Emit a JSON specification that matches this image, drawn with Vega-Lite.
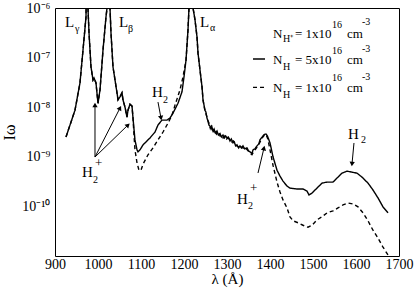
{
  "$schema": "https://vega.github.io/schema/vega-lite/v6.json",
  "width": 344,
  "height": 248,
  "autosize": {"type": "none"},
  "padding": {"left": 55, "top": 8, "right": 17, "bottom": 36},
  "background": "white",
  "config": {
    "view": {"stroke": "black", "strokeWidth": 1},
    "axis": {"grid": false, "domain": false, "labelFont": "Liberation Serif", "labelFontSize": 14, "labelColor": "black", "titleFont": "Liberation Serif", "titleColor": "black", "titleFontWeight": "normal", "tickColor": "black", "tickWidth": 1, "labelOverlap": false, "labelFlush": false, "labelBound": false}
  },
  "datasets": {
    "spec": [
      {"s":"a","l":925.6,"v":2.51e-9},{"s":"a","l":946.5,"v":8.71e-9},{"s":"a","l":958.1,"v":3.09e-8},{"s":"a","l":965.1,"v":1.41e-7},{"s":"a","l":972.1,"v":6.61e-7},{"s":"a","l":974.5,"v":3.16e-5},{"s":"a","l":976.7,"v":1.0e-6},{"s":"a","l":979.1,"v":3.16e-7},{"s":"a","l":983.7,"v":6.46e-8},{"s":"a","l":988.4,"v":3.55e-8},{"s":"a","l":990.7,"v":3.89e-8},{"s":"a","l":995.3,"v":3.09e-8},{"s":"a","l":1000,"v":1.2e-8},{"s":"a","l":1004.7,"v":2.24e-8},{"s":"a","l":1011.6,"v":1.41e-7},{"s":"a","l":1018.6,"v":6.61e-7},{"s":"a","l":1021,"v":1.0e-6},{"s":"a","l":1024.5,"v":3.16e-5},{"s":"a","l":1027.9,"v":1.0e-6},{"s":"a","l":1030.2,"v":3.16e-7},{"s":"a","l":1034.9,"v":6.46e-8},{"s":"a","l":1044.2,"v":1.95e-8},{"s":"a","l":1046.5,"v":1.41e-8},{"s":"a","l":1051.2,"v":1.62e-8},{"s":"a","l":1055.8,"v":1.95e-8},{"s":"a","l":1058.1,"v":1.41e-8},{"s":"a","l":1062.8,"v":1.0e-8},{"s":"a","l":1067.4,"v":6.31e-9},{"s":"a","l":1069.8,"v":8.71e-9},{"s":"a","l":1074.4,"v":1.15e-8},{"s":"a","l":1079.1,"v":1.05e-8},{"s":"a","l":1081.4,"v":6.03e-9},{"s":"a","l":1086,"v":2.19e-9},{"s":"a","l":1090.7,"v":1.38e-9},{"s":"a","l":1093,"v":1.26e-9},{"s":"a","l":1097.7,"v":1.38e-9},{"s":"a","l":1104.7,"v":1.74e-9},{"s":"a","l":1120.9,"v":2.4e-9},{"s":"a","l":1132.6,"v":3.16e-9},{"s":"a","l":1139.5,"v":4.37e-9},{"s":"a","l":1148.8,"v":5.5e-9},{"s":"a","l":1160.5,"v":5.5e-9},{"s":"a","l":1167.4,"v":6.03e-9},{"s":"a","l":1174.4,"v":7.59e-9},{"s":"a","l":1186,"v":1.2e-8},{"s":"a","l":1195.3,"v":2.04e-8},{"s":"a","l":1200,"v":4.07e-8},{"s":"a","l":1204.7,"v":8.91e-8},{"s":"a","l":1209.3,"v":3.63e-7},{"s":"a","l":1211.6,"v":1.0e-6},{"s":"a","l":1215.7,"v":3.16e-5},{"s":"a","l":1221,"v":1.0e-6},{"s":"a","l":1225.6,"v":5.75e-7},{"s":"a","l":1230.2,"v":2.63e-7},{"s":"a","l":1232.6,"v":1.23e-7},{"s":"a","l":1237.2,"v":5.62e-8},{"s":"a","l":1241.9,"v":2.57e-8},{"s":"a","l":1244.2,"v":1.41e-8},{"s":"a","l":1248.8,"v":8.71e-9},{"s":"a","l":1251,"v":7.94e-9},{"s":"a","l":1253.5,"v":6.03e-9},{"s":"a","l":1255.8,"v":5.25e-9},{"s":"a","l":1258,"v":4.37e-9},{"s":"a","l":1260.5,"v":4.17e-9},{"s":"a","l":1263,"v":3.63e-9},{"s":"a","l":1265,"v":3.98e-9},{"s":"a","l":1267.4,"v":3.31e-9},{"s":"a","l":1270,"v":3.63e-9},{"s":"a","l":1273,"v":3.02e-9},{"s":"a","l":1276.7,"v":3.31e-9},{"s":"a","l":1280,"v":2.75e-9},{"s":"a","l":1283.7,"v":2.95e-9},{"s":"a","l":1287,"v":2.51e-9},{"s":"a","l":1290.7,"v":2.75e-9},{"s":"a","l":1294,"v":2.4e-9},{"s":"a","l":1297,"v":2.63e-9},{"s":"a","l":1300,"v":2.4e-9},{"s":"a","l":1303,"v":2.51e-9},{"s":"a","l":1307,"v":2.09e-9},{"s":"a","l":1310,"v":2.29e-9},{"s":"a","l":1314,"v":1.91e-9},{"s":"a","l":1317,"v":2.0e-9},{"s":"a","l":1320,"v":1.66e-9},{"s":"a","l":1323.3,"v":1.74e-9},{"s":"a","l":1327,"v":1.51e-9},{"s":"a","l":1330.2,"v":1.66e-9},{"s":"a","l":1334,"v":1.51e-9},{"s":"a","l":1337.2,"v":1.66e-9},{"s":"a","l":1341,"v":1.45e-9},{"s":"a","l":1346.5,"v":1.51e-9},{"s":"a","l":1350,"v":1.32e-9},{"s":"a","l":1353.5,"v":1.26e-9},{"s":"a","l":1358.1,"v":1.17e-9},{"s":"a","l":1360.5,"v":1.38e-9},{"s":"a","l":1365,"v":1.45e-9},{"s":"a","l":1369.8,"v":1.66e-9},{"s":"a","l":1374,"v":1.82e-9},{"s":"a","l":1376.7,"v":2.19e-9},{"s":"a","l":1380,"v":2.4e-9},{"s":"a","l":1383.7,"v":2.63e-9},{"s":"a","l":1387,"v":2.82e-9},{"s":"a","l":1390.7,"v":2.88e-9},{"s":"a","l":1394,"v":2.63e-9},{"s":"a","l":1400,"v":1.91e-9},{"s":"a","l":1407,"v":1.0e-9},{"s":"a","l":1416.3,"v":5.37e-10},{"s":"a","l":1423.3,"v":4.07e-10},{"s":"a","l":1430.2,"v":3.24e-10},{"s":"a","l":1439.5,"v":2.57e-10},{"s":"a","l":1446.5,"v":2.34e-10},{"s":"a","l":1462.8,"v":2.24e-10},{"s":"a","l":1476.7,"v":2.24e-10},{"s":"a","l":1486,"v":2.04e-10},{"s":"a","l":1490.7,"v":1.7e-10},{"s":"a","l":1497.7,"v":1.86e-10},{"s":"a","l":1504.7,"v":2.14e-10},{"s":"a","l":1521,"v":2.95e-10},{"s":"a","l":1532.6,"v":3.09e-10},{"s":"a","l":1546.5,"v":3.09e-10},{"s":"a","l":1555.8,"v":3.72e-10},{"s":"a","l":1567.4,"v":4.68e-10},{"s":"a","l":1579.1,"v":5.13e-10},{"s":"a","l":1590.7,"v":4.9e-10},{"s":"a","l":1602.3,"v":4.68e-10},{"s":"a","l":1614,"v":3.89e-10},{"s":"a","l":1627.9,"v":2.95e-10},{"s":"a","l":1639.5,"v":2.14e-10},{"s":"a","l":1651.2,"v":1.48e-10},{"s":"a","l":1662.8,"v":9.77e-11},{"s":"a","l":1674.4,"v":7.41e-11},
      {"s":"b","l":925.6,"v":2.51e-9},{"s":"b","l":946.5,"v":8.71e-9},{"s":"b","l":958.1,"v":3.09e-8},{"s":"b","l":965.1,"v":1.41e-7},{"s":"b","l":972.1,"v":6.61e-7},{"s":"b","l":974.5,"v":3.16e-5},{"s":"b","l":976.7,"v":1.0e-6},{"s":"b","l":979.1,"v":3.16e-7},{"s":"b","l":983.7,"v":6.46e-8},{"s":"b","l":988.4,"v":3.55e-8},{"s":"b","l":990.7,"v":3.89e-8},{"s":"b","l":995.3,"v":3.09e-8},{"s":"b","l":1000,"v":1.2e-8},{"s":"b","l":1004.7,"v":2.24e-8},{"s":"b","l":1011.6,"v":1.41e-7},{"s":"b","l":1018.6,"v":6.61e-7},{"s":"b","l":1021,"v":1.0e-6},{"s":"b","l":1024.5,"v":3.16e-5},{"s":"b","l":1027.9,"v":1.0e-6},{"s":"b","l":1030.2,"v":3.16e-7},{"s":"b","l":1034.9,"v":6.46e-8},{"s":"b","l":1044.2,"v":1.95e-8},{"s":"b","l":1046.5,"v":1.41e-8},{"s":"b","l":1051.2,"v":1.62e-8},{"s":"b","l":1055.8,"v":1.95e-8},{"s":"b","l":1058.1,"v":1.41e-8},{"s":"b","l":1062.8,"v":1.0e-8},{"s":"b","l":1067.4,"v":6.31e-9},{"s":"b","l":1069.8,"v":8.71e-9},{"s":"b","l":1074.4,"v":1.15e-8},{"s":"b","l":1079.1,"v":1.05e-8},{"s":"b","l":1081.4,"v":6.03e-9},{"s":"b","l":1083.7,"v":2.75e-9},{"s":"b","l":1086,"v":1.38e-9},{"s":"b","l":1090.7,"v":7.59e-10},{"s":"b","l":1095.3,"v":5.37e-10},{"s":"b","l":1100,"v":5.37e-10},{"s":"b","l":1104.7,"v":7.08e-10},{"s":"b","l":1116.3,"v":1.1e-9},{"s":"b","l":1127.9,"v":1.51e-9},{"s":"b","l":1139.5,"v":2.19e-9},{"s":"b","l":1151.2,"v":3.16e-9},{"s":"b","l":1162.8,"v":4.79e-9},{"s":"b","l":1172.1,"v":6.92e-9},{"s":"b","l":1179.1,"v":1.1e-8},{"s":"b","l":1190.7,"v":2.24e-8},{"s":"b","l":1197.7,"v":4.07e-8},{"s":"b","l":1204.7,"v":8.91e-8},{"s":"b","l":1209.3,"v":3.63e-7},{"s":"b","l":1211.6,"v":1.0e-6},{"s":"b","l":1215.7,"v":3.16e-5},{"s":"b","l":1221,"v":1.0e-6},{"s":"b","l":1225.6,"v":5.75e-7},{"s":"b","l":1230.2,"v":2.63e-7},{"s":"b","l":1232.6,"v":1.23e-7},{"s":"b","l":1237.2,"v":5.62e-8},{"s":"b","l":1241.9,"v":2.57e-8},{"s":"b","l":1244.2,"v":1.41e-8},{"s":"b","l":1248.8,"v":8.32e-9},{"s":"b","l":1252,"v":6.92e-9},{"s":"b","l":1255,"v":5.5e-9},{"s":"b","l":1258,"v":4.79e-9},{"s":"b","l":1261,"v":3.8e-9},{"s":"b","l":1264,"v":4.17e-9},{"s":"b","l":1267,"v":3.47e-9},{"s":"b","l":1270,"v":3.16e-9},{"s":"b","l":1273,"v":3.47e-9},{"s":"b","l":1276,"v":2.88e-9},{"s":"b","l":1280,"v":3.16e-9},{"s":"b","l":1284,"v":2.63e-9},{"s":"b","l":1288,"v":2.75e-9},{"s":"b","l":1291,"v":2.4e-9},{"s":"b","l":1295,"v":2.63e-9},{"s":"b","l":1299,"v":2.29e-9},{"s":"b","l":1303,"v":2.4e-9},{"s":"b","l":1307,"v":2.19e-9},{"s":"b","l":1311,"v":2.0e-9},{"s":"b","l":1315,"v":2.09e-9},{"s":"b","l":1319,"v":1.74e-9},{"s":"b","l":1323,"v":1.66e-9},{"s":"b","l":1327,"v":1.58e-9},{"s":"b","l":1331,"v":1.45e-9},{"s":"b","l":1335,"v":1.58e-9},{"s":"b","l":1339,"v":1.45e-9},{"s":"b","l":1343,"v":1.51e-9},{"s":"b","l":1347,"v":1.38e-9},{"s":"b","l":1351,"v":1.26e-9},{"s":"b","l":1355,"v":1.15e-9},{"s":"b","l":1358,"v":1.1e-9},{"s":"b","l":1362,"v":1.26e-9},{"s":"b","l":1367,"v":1.45e-9},{"s":"b","l":1372,"v":1.66e-9},{"s":"b","l":1377,"v":2.0e-9},{"s":"b","l":1382,"v":2.4e-9},{"s":"b","l":1386,"v":2.69e-9},{"s":"b","l":1390.7,"v":2.82e-9},{"s":"b","l":1395,"v":2.29e-9},{"s":"b","l":1400,"v":1.38e-9},{"s":"b","l":1407,"v":6.76e-10},{"s":"b","l":1416.3,"v":3.09e-10},{"s":"b","l":1423.3,"v":1.95e-10},{"s":"b","l":1430.2,"v":1.35e-10},{"s":"b","l":1439.5,"v":9.33e-11},{"s":"b","l":1446.5,"v":6.17e-11},{"s":"b","l":1453.5,"v":5.13e-11},{"s":"b","l":1465.1,"v":4.68e-11},{"s":"b","l":1476.7,"v":4.17e-11},{"s":"b","l":1488.4,"v":3.8e-11},{"s":"b","l":1497.7,"v":4.17e-11},{"s":"b","l":1509.3,"v":5.37e-11},{"s":"b","l":1521,"v":6.17e-11},{"s":"b","l":1532.6,"v":7.41e-11},{"s":"b","l":1546.5,"v":8.13e-11},{"s":"b","l":1558.1,"v":9.33e-11},{"s":"b","l":1569.8,"v":1.07e-10},{"s":"b","l":1581.4,"v":1.17e-10},{"s":"b","l":1593,"v":1.12e-10},{"s":"b","l":1604.7,"v":9.77e-11},{"s":"b","l":1616.3,"v":7.41e-11},{"s":"b","l":1627.9,"v":5.13e-11},{"s":"b","l":1639.5,"v":3.31e-11},{"s":"b","l":1651.2,"v":2.29e-11},{"s":"b","l":1662.8,"v":1.51e-11},{"s":"b","l":1674.4,"v":1.05e-11}
    ],
    "legline": [
      {"s":"a","l1":1360.5,"l2":1388.4,"v":9.38e-8},
      {"s":"b","l1":1360.5,"l2":1390.7,"v":2.52e-8}
    ],
    "arrows": [
      {"l1":993,"v1":9.9e-10,"l2":993,"v2":1.11e-8},
      {"l1":993,"v1":9.9e-10,"l2":1051.2,"v2":9.64e-9},
      {"l1":993,"v1":9.9e-10,"l2":1069.8,"v2":4.38e-9},
      {"l1":1139.5,"v1":1.27e-8,"l2":1146.5,"v2":6.05e-9},
      {"l1":1372.1,"v1":4.71e-10,"l2":1386,"v2":1.5e-9},
      {"l1":1595.3,"v1":1.9e-9,"l2":1590.7,"v2":7.16e-10}
    ],
    "big": [
      {"t":"L","l":923.3,"v":5.22e-7},
      {"t":"L","l":1048.8,"v":5.22e-7},
      {"t":"L","l":1237.2,"v":5.22e-7},
      {"t":"H","l":1125.6,"v":2.02e-8},
      {"t":"H","l":962.8,"v":4.94e-10},
      {"t":"H","l":1323.3,"v":1.41e-10},
      {"t":"H","l":1581.4,"v":2.88e-9}
    ],
    "leg": [
      {"t":"N","l":1407,"v":2.99e-7},
      {"t":"= 1x10","l":1458.1,"v":2.99e-7},
      {"t":"cm","l":1579.1,"v":2.99e-7},
      {"t":"N","l":1407,"v":8.95e-8},
      {"t":"= 5x10","l":1458.1,"v":8.95e-8},
      {"t":"cm","l":1579.1,"v":8.95e-8},
      {"t":"N","l":1407,"v":2.44e-8},
      {"t":"= 1x10","l":1458.1,"v":2.44e-8},
      {"t":"cm","l":1579.1,"v":2.44e-8}
    ],
    "small": [
      {"t":"γ","l":946.5,"v":3.78e-7},
      {"t":"β","l":1069.8,"v":3.78e-7},
      {"t":"α","l":1260.5,"v":3.95e-7},
      {"t":"2","l":1151.2,"v":1.4e-8},
      {"t":"2","l":988.4,"v":3.4e-10},
      {"t":"2","l":1348.8,"v":1.02e-10},
      {"t":"2","l":1611.6,"v":2.18e-9},
      {"t":"H⁺","l":1430.2,"v":2.37e-7},
      {"t":"16","l":1544.2,"v":4.54e-7},
      {"t":"-3","l":1614,"v":5.22e-7},
      {"t":"H","l":1430.2,"v":6.45e-8},
      {"t":"16","l":1544.2,"v":1.36e-7},
      {"t":"-3","l":1614,"v":1.49e-7},
      {"t":"H","l":1430.2,"v":1.76e-8},
      {"t":"16","l":1544.2,"v":3.88e-8},
      {"t":"-3","l":1614,"v":4.06e-8}
    ],
    "plus": [
      {"t":"+","l":993,"v":7.5e-10},
      {"t":"+","l":1353.5,"v":2.35e-10}
    ]
  },
  "layer": [
    {
      "data": {"name": "spec"},
      "mark": {"type": "line", "clip": true, "color": "black", "strokeWidth": 1.4},
      "encoding": {
        "x": {"field": "l", "type": "quantitative", "scale": {"domain": [900, 1700], "nice": false, "zero": false},
          "axis": {"orient": "bottom", "values": [900,925,950,975,1000,1025,1050,1075,1100,1125,1150,1175,1200,1225,1250,1275,1300,1325,1350,1375,1400,1425,1450,1475,1500,1525,1550,1575,1600,1625,1650,1675,1700],
            "labelExpr": "datum.value % 100 === 0 ? '' + datum.value : ''", "tickSize": 0, "labelPadding": 1,
            "title": "λ (Å)", "titleFontSize": 15, "titlePadding": 0,
            "encode": {"ticks": {"update": {"y2": {"signal": "datum.value % 100 === 0 ? -5 : -3"}}}}}},
        "y": {"field": "v", "type": "quantitative", "scale": {"type": "log", "domain": [1e-11, 1e-6], "nice": false},
          "axis": {"orient": "left", "values": [1e-11,2e-11,3e-11,4e-11,5e-11,6e-11,7e-11,8e-11,9e-11,1e-10,2e-10,3e-10,4e-10,5e-10,6e-10,7e-10,8e-10,9e-10,1e-9,2e-9,3e-9,4e-9,5e-9,6e-9,7e-9,8e-9,9e-9,1e-8,2e-8,3e-8,4e-8,5e-8,6e-8,7e-8,8e-8,9e-8,1e-7,2e-7,3e-7,4e-7,5e-7,6e-7,7e-7,8e-7,9e-7,1e-6],
            "labelExpr": "abs(log(datum.value)/LN10 - round(log(datum.value)/LN10)) < 0.001 ? (round(log(datum.value)/LN10) == -6 ? '10⁻⁶' : round(log(datum.value)/LN10) == -7 ? '10⁻⁷' : round(log(datum.value)/LN10) == -8 ? '10⁻⁸' : round(log(datum.value)/LN10) == -9 ? '10⁻⁹' : round(log(datum.value)/LN10) == -10 ? '10⁻¹⁰' : '') : ''",
            "tickSize": 0, "labelPadding": 5,
            "title": "Iω", "titleFontSize": 16, "titlePadding": 4,
            "encode": {"ticks": {"update": {"x2": {"signal": "abs(log(datum.value)/LN10 - round(log(datum.value)/LN10)) < 0.001 ? 5 : 3"}}}}}},
        "strokeDash": {"field": "s", "type": "nominal", "scale": {"domain": ["a", "b"], "range": [[1, 0], [4, 3]]}, "legend": null}
      }
    },
    {
      "data": {"name": "legline"},
      "mark": {"type": "rule", "color": "black", "strokeWidth": 1.3},
      "encoding": {
        "x": {"field": "l1", "type": "quantitative", "scale": {"domain": [900, 1700], "nice": false, "zero": false},
          "axis": {"orient": "top", "values": [900,925,950,975,1000,1025,1050,1075,1100,1125,1150,1175,1200,1225,1250,1275,1300,1325,1350,1375,1400,1425,1450,1475,1500,1525,1550,1575,1600,1625,1650,1675,1700],
            "labels": false, "tickSize": 0, "title": null,
            "encode": {"ticks": {"update": {"y2": {"signal": "datum.value % 100 === 0 ? 5 : 3"}}}}}},
        "x2": {"field": "l2"},
        "y": {"field": "v", "type": "quantitative", "scale": {"type": "log", "domain": [1e-11, 1e-6], "nice": false},
          "axis": {"orient": "right", "values": [1e-11,2e-11,3e-11,4e-11,5e-11,6e-11,7e-11,8e-11,9e-11,1e-10,2e-10,3e-10,4e-10,5e-10,6e-10,7e-10,8e-10,9e-10,1e-9,2e-9,3e-9,4e-9,5e-9,6e-9,7e-9,8e-9,9e-9,1e-8,2e-8,3e-8,4e-8,5e-8,6e-8,7e-8,8e-8,9e-8,1e-7,2e-7,3e-7,4e-7,5e-7,6e-7,7e-7,8e-7,9e-7,1e-6],
            "labels": false, "tickSize": 0, "title": null,
            "encode": {"ticks": {"update": {"x2": {"signal": "abs(log(datum.value)/LN10 - round(log(datum.value)/LN10)) < 0.001 ? -5 : -3"}}}}}},
        "strokeDash": {"field": "s", "type": "nominal", "scale": {"domain": ["a", "b"], "range": [[1, 0], [4, 3]]}, "legend": null}
      }
    },
    {
      "data": {"name": "arrows"},
      "mark": {"type": "rule", "color": "black", "strokeWidth": 1},
      "encoding": {
        "x": {"field": "l1", "type": "quantitative", "axis": null},
        "y": {"field": "v1", "type": "quantitative", "axis": null},
        "x2": {"field": "l2"},
        "y2": {"field": "v2"}
      }
    },
    {
      "data": {"name": "arrows"},
      "transform": [{"calculate": "atan2((datum.l2 - datum.l1) * 0.43, (log(datum.v2) - log(datum.v1)) / LN10 * 49.6) * 180 / PI", "as": "ang"}],
      "mark": {"type": "point", "shape": "triangle-up", "filled": true, "color": "black", "opacity": 1, "size": 28},
      "encoding": {
        "x": {"field": "l2", "type": "quantitative", "axis": null},
        "y": {"field": "v2", "type": "quantitative", "axis": null},
        "angle": {"field": "ang", "type": "quantitative", "scale": null}
      }
    },
    {
      "data": {"name": "big"},
      "mark": {"type": "text", "font": "Liberation Serif", "fontSize": 15, "align": "left", "baseline": "middle", "color": "black"},
      "encoding": {
        "x": {"field": "l", "type": "quantitative", "axis": null},
        "y": {"field": "v", "type": "quantitative", "axis": null},
        "text": {"field": "t"}
      }
    },
    {
      "data": {"name": "leg"},
      "mark": {"type": "text", "font": "Liberation Serif", "fontSize": 13, "align": "left", "baseline": "middle", "color": "black"},
      "encoding": {
        "x": {"field": "l", "type": "quantitative", "axis": null},
        "y": {"field": "v", "type": "quantitative", "axis": null},
        "text": {"field": "t"}
      }
    },
    {
      "data": {"name": "small"},
      "mark": {"type": "text", "font": "Liberation Serif", "fontSize": 10, "align": "left", "baseline": "middle", "color": "black"},
      "encoding": {
        "x": {"field": "l", "type": "quantitative", "axis": null},
        "y": {"field": "v", "type": "quantitative", "axis": null},
        "text": {"field": "t"}
      }
    },
    {
      "data": {"name": "plus"},
      "mark": {"type": "text", "font": "Liberation Serif", "fontSize": 13, "align": "left", "baseline": "middle", "color": "black"},
      "encoding": {
        "x": {"field": "l", "type": "quantitative", "axis": null},
        "y": {"field": "v", "type": "quantitative", "axis": null},
        "text": {"field": "t"}
      }
    }
  ],
  "resolve": {"axis": {"x": "independent", "y": "independent"}}
}
